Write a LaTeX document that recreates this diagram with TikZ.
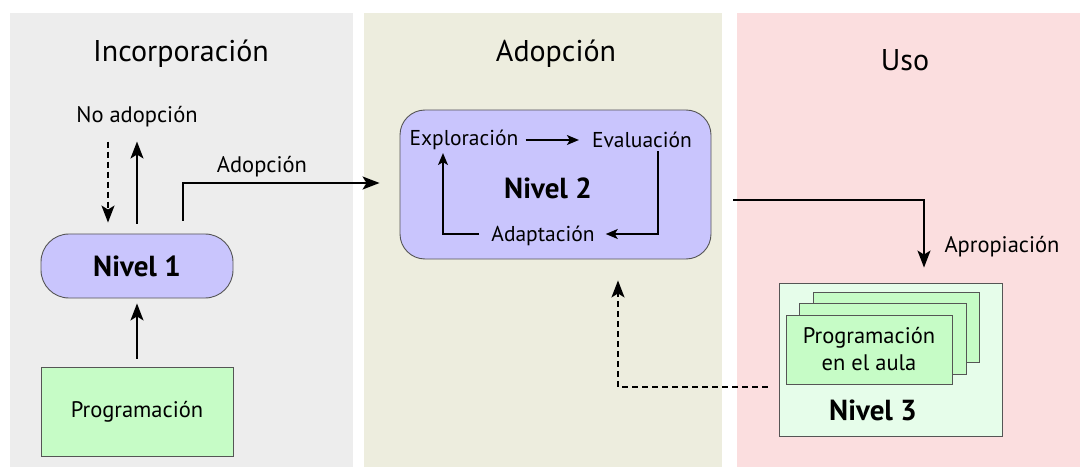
\documentclass[tikz,border=0pt]{standalone}
\usepackage{fontspec}
\setmainfont{PT Sans}
\usetikzlibrary{arrows.meta}

\definecolor{paneIncorp}{HTML}{EDEDED}
\definecolor{paneAdop}{HTML}{EDEDDE}
\definecolor{paneUso}{HTML}{FBDEDF}
\definecolor{lavender}{HTML}{C9C5FD}
\definecolor{mint}{HTML}{C6FCC6}
\definecolor{palemint}{HTML}{E6FDEA}
\definecolor{edge}{HTML}{555555}

\tikzset{
  title/.style={font=\fontsize{30}{33}\selectfont, text=black},
  label/.style={font=\fontsize{22.5}{26}\selectfont, inner sep=0pt},
  cyclelabel/.style={font=\fontsize{21.5}{25}\selectfont, inner sep=0pt},
  levelbox/.style={draw=edge, line width=0.9pt, fill=lavender, rounded corners=28pt},
  greenbox/.style={draw=edge, line width=0.9pt, fill=mint},
  levelname/.style={font=\fontsize{29}{32}\selectfont\bfseries, inner sep=0pt},
  arr/.style={line width=1.7pt, -{Stealth[length=17pt,width=13pt,inset=4pt]}},
  darr/.style={line width=1.7pt, dash pattern=on 6pt off 4pt, -{Stealth[length=17pt,width=13pt,inset=4pt]}},
  cyclearr/.style={line width=1.3pt, -{Stealth[length=12pt,width=10pt,inset=3pt]}}
}

\begin{document}
\begin{tikzpicture}[x=1pt, y=-1pt]
\useasboundingbox (0,0) rectangle (1080,468);
\fill[white] (0,0) rectangle (1080,468);

% three phase panels
\fill[paneIncorp] (10,13) rectangle (353,467);
\fill[paneAdop] (364,13) rectangle (722,467);
\fill[paneUso] (737,13) rectangle (1080,467);

\node[title] (tInc) at (181,54) {Incorporación};
\node[title] (tAdop) at (556,54) {Adopción};
\node[title] (tUso) at (905,60) {Uso};

% level 1 column
\node[levelbox, minimum width=192pt, minimum height=64pt] (nivel1) at (137,266) {};
\node[levelname] (n1text) at (nivel1.center) {Nivel 1};
\node[greenbox, minimum width=192pt, minimum height=89pt,
      font=\fontsize{22.5}{26}\selectfont] (prog) at (137,411.5) {Programación};
\node[label] (noad) at (137,117) {No adopción};

\draw[arr] ([yshift=8pt]prog.north) -- ([yshift=-5pt]nivel1.south);
\draw[darr] ([xshift=-29pt,yshift=92pt]nivel1.north) -- ([xshift=-29pt,yshift=11pt]nivel1.north);
\draw[arr] ([yshift=10pt]nivel1.north) -- ([yshift=92pt]nivel1.north);

% level 2 cycle
\node[levelbox, rounded corners=25pt, minimum width=311pt, minimum height=149pt] (nivel2) at (555.5,184.5) {};
\node[levelname] (n2text) at (548,188) {Nivel 2};
\node[cyclelabel] (explo) at (464,140) {Exploración};
\node[cyclelabel] (eval) at (642,140) {Evaluación};
\node[cyclelabel] (adapt) at (543,236) {Adaptación};

\draw[cyclearr] ([xshift=7pt]explo.east) -- ([xshift=-13pt]eval.west);
\draw[cyclearr] ([xshift=16pt,yshift=-3pt]eval.south) |- ([xshift=11pt,yshift=2pt]adapt.east);
\draw[cyclearr] ([xshift=-12pt,yshift=2pt]adapt.west) -| ([xshift=-21pt,yshift=-3pt]explo.south);

\node[label] (adoplbl) at (262,167) {Adopción};
\draw[arr] ([xshift=46pt,yshift=13pt]nivel1.north) |- ([xshift=-20pt,yshift=1.5pt]nivel2.west);

% level 3 stack
\node[draw=edge, line width=0.9pt, fill=palemint, minimum width=223pt, minimum height=153pt] (nivel3) at (890.5,359.5) {};
\node[greenbox, minimum width=166pt, minimum height=70pt] (card3) at (896,327) {};
\node[greenbox, minimum width=167pt, minimum height=71pt] (card2) at (882.5,338.5) {};
\node[greenbox, minimum width=166pt, minimum height=69pt, align=center,
      font=\fontsize{22.5}{27}\selectfont] (card1) at (869,349.5) {Programación\\en el aula};
\node[levelname] (n3text) at (873,410.5) {Nivel 3};

\coordinate (apstart) at (733,200);
\draw[arr] (apstart) -| ([xshift=33.5pt,yshift=15pt]nivel3.north);
\node[label] (aplbl) at (1002,247) {Apropiación};

\draw[darr] ([xshift=-11pt,yshift=-27.5pt]nivel3.west) -| ([xshift=62.5pt,yshift=-21pt]nivel2.south);
\end{tikzpicture}
\end{document}
